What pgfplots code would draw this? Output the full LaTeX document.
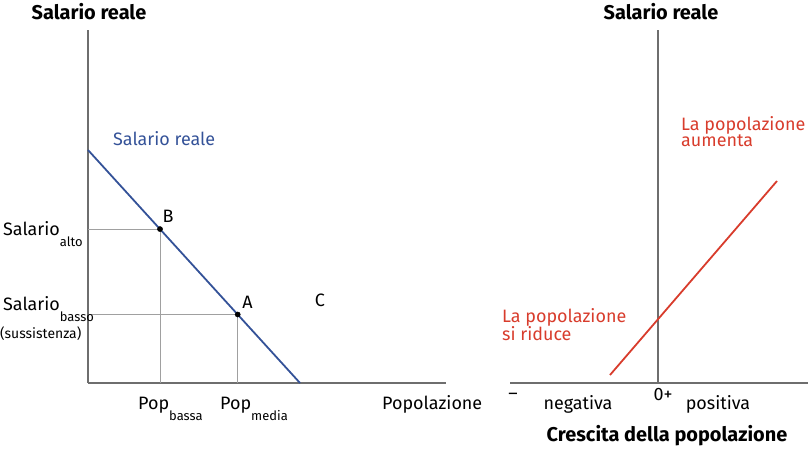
\documentclass[border=0pt]{standalone}
\usepackage{pgfplots}
\pgfplotsset{compat=1.18}
\usepackage{fontspec}
\setmainfont{Fira Sans}
\definecolor{wageblue}{RGB}{52,82,152}
\definecolor{popred}{RGB}{216,60,44}
\definecolor{axgray}{RGB}{110,110,110}
\definecolor{guidegray}{RGB}{160,160,160}
\newcommand{\lab}{\fontsize{18}{17}\selectfont}
\newcommand{\ttl}{\fontsize{20}{22}\selectfont\bfseries}
\newcommand{\sub}[1]{\raisebox{-11bp}{\fontsize{13}{14}\selectfont #1}}
\begin{document}
\begin{tikzpicture}
\path[use as bounding box] (0,0) rectangle (810bp,456bp);
\pgfplotsset{
  panel/.style={
    scale only axis, clip=false, ticks=none,
    ymin=0, ymax=353, height=353bp,
  },
  nohead/.style={
    axis line style={-, axgray, line width=1.3bp},
    every outer x axis line/.append style={-},
    every outer y axis line/.append style={-},
    every inner x axis line/.append style={-},
    every inner y axis line/.append style={-},
  },
}
% left panel: wage against population
\begin{axis}[panel, axis lines=left, nohead,
    at={(88bp,73bp)}, anchor=south west,
    xmin=0, xmax=358, width=358bp]
\addplot[guidegray, line width=0.9bp] coordinates {(0,153.9) (72,153.9) (72,0)};
\addplot[guidegray, line width=0.9bp] coordinates {(0,68.5) (149.7,68.5) (149.7,0)};
\addplot[wageblue, line width=1.8bp] coordinates {(0,233) (212,0)};
\addplot[only marks, mark=*, mark size=2.6bp, black] coordinates {(72,153.9) (149.7,68.5)};
\node[font=\ttl] at (axis cs:1,371) {Salario reale};
\node[anchor=base west, font=\lab, text=wageblue, inner sep=0pt] at (axis cs:25,237) {Salario reale};
\node[anchor=base, font=\lab] at (axis cs:80,160) {B};
\node[font=\lab] at (axis cs:159.5,81) {A};
\node[font=\lab] at (axis cs:232,83) {C};
\node[anchor=base west, font=\lab, inner sep=0pt] at (axis cs:-85,147) {Salario\sub{alto}};
\node[anchor=base west, font=\lab, inner sep=0pt] at (axis cs:-85,72) {Salario\sub{basso}};
\node[anchor=base west, font=\fontsize{14}{16}\selectfont, inner sep=0pt] at (axis cs:-88,44) {(sussistenza)};
\node[anchor=base west, font=\lab, inner sep=0pt] at (axis cs:50,-27) {Pop\sub{bassa}};
\node[anchor=base west, font=\lab, inner sep=0pt] at (axis cs:132,-27) {Pop\sub{media}};
\node[anchor=base west, font=\lab, inner sep=0pt] at (axis cs:294,-27) {Popolazione};
\end{axis}
% right panel: wage against population growth
\begin{axis}[panel, axis lines=middle, nohead,
    at={(510bp,73bp)}, anchor=south west,
    xmin=-148, xmax=150, width=298bp]
\addplot[popred, line width=1.8bp] coordinates {(-48,8) (119,202)};
\node[font=\ttl] at (axis cs:3,371) {Salario reale};
\node[anchor=base west, font=\lab, text=popred, align=left, inner sep=0pt] at (axis cs:23,236) {La popolazione\\aumenta};
\node[anchor=base west, font=\lab, text=popred, align=left, inner sep=0pt] at (axis cs:-156,42) {La popolazione\\si riduce};
\node[font=\lab] at (axis cs:-145,-13) {--};
\node[font=\lab] at (axis cs:5,-12) {0+};
\node[anchor=base, font=\lab, inner sep=0pt] at (axis cs:-80,-27) {negativa};
\node[anchor=base, font=\lab, inner sep=0pt] at (axis cs:60,-27) {positiva};
\node[anchor=base, font=\ttl, inner sep=0pt] at (axis cs:9,-58) {Crescita della popolazione};
\end{axis}
\end{tikzpicture}
\end{document}
